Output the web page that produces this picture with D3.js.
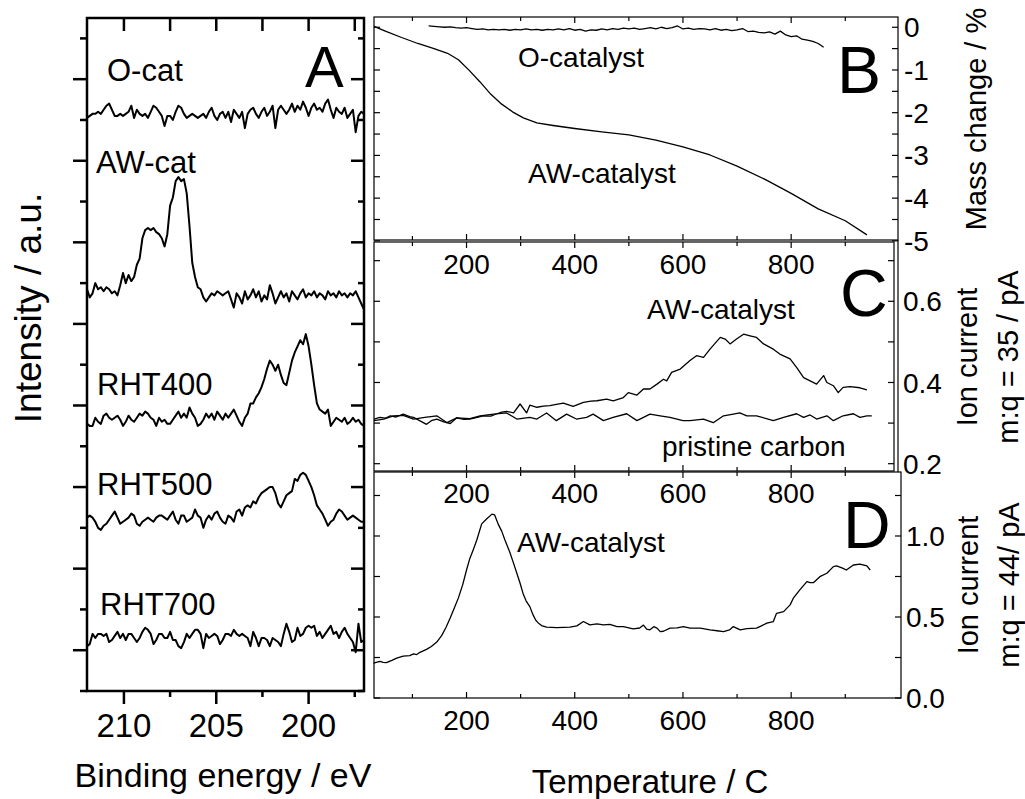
<!DOCTYPE html>
<html>
<head>
<meta charset="utf-8">
<script src="https://cdn.jsdelivr.net/npm/d3@7"></script>
<style>
body { margin: 0; background: #fff; }
text { font-family: "Liberation Sans", Arial, sans-serif; fill: #000; }
</style>
</head>
<body>
<div id="chart"></div>
<script>
// ---- panel A: XPS spectra (binding energy, 212 -> 197 eV, step 0.15) ----
var energyStart = 212, energyStep = 0.15
var energyTicks = [210, 205, 200]
var energyMinor = [207.5, 202.5, 197.5]

var oCat = [281,282,283,283,284,283,285,287,288,285,
  282,282,283,282,283,284,287,281,285,283,
  282,283,281,284,287,286,284,282,277,282,
  282,280,284,287,286,283,281,282,283,282,
  281,282,283,281,284,286,282,280,283,284,
  281,284,279,285,283,281,284,276,283,285,
  286,283,281,284,286,282,284,287,276,285,
  287,285,283,285,288,284,287,285,289,286,
  282,286,288,285,286,284,288,290,285,281,
  286,284,283,286,281,283,285,274,282,284,283]
var awCat = [197,193,195,200,197,198,196,198,197,195,
  196,194,199,205,200,204,201,203,209,212,
  222,226,227,226,227,225,224,222,218,224,
  238,242,250,252,250,251,244,228,210,203,
  198,197,193,191,193,195,194,196,195,194,
  195,196,192,188,195,193,190,196,192,194,
  197,193,196,191,194,192,199,195,190,193,
  196,193,195,191,196,194,192,195,197,193,
  195,194,196,193,195,194,192,196,194,195,
  193,196,194,195,193,195,194,196,193,190,187]
var rht400 = [131,130,130,134,132,131,135,136,134,133,
  134,135,133,130,132,135,133,132,134,136,
  135,137,136,134,133,130,134,132,133,131,
  131,133,135,137,134,136,134,139,136,134,
  130,131,133,136,134,136,133,137,135,133,
  136,134,136,138,135,132,130,134,136,141,
  141,144,146,149,153,158,162,160,157,160,
  155,151,150,156,162,166,169,172,170,175,
  169,160,150,141,138,137,136,138,130,132,
  134,133,132,134,131,132,134,132,133,131,130]
var rht500 = [85,86,85,83,80,79,81,82,84,86,
  88,85,82,83,84,85,87,86,82,81,
  83,84,85,84,83,85,86,86,85,84,
  86,88,84,82,86,86,83,84,85,89,
  86,85,80,84,86,84,87,88,85,83,
  82,86,85,83,88,89,86,90,91,90,
  93,92,95,97,98,99,100,100,97,92,
  90,93,96,97,98,104,103,106,107,106,
  103,100,96,91,89,87,84,81,83,84,
  87,89,88,86,84,85,86,85,84,83,83]
var rht700 = [22,23,28,26,28,28,27,28,24,25,
  27,29,26,28,25,28,28,26,24,26,
  29,31,30,28,23,25,28,28,26,26,
  29,25,25,22,21,24,28,26,28,30,
  30,28,21,28,26,27,28,27,23,25,
  28,28,27,30,28,27,28,27,26,22,
  29,26,22,26,26,25,22,26,25,24,
  22,28,33,29,24,25,31,27,28,31,
  32,31,32,27,29,26,28,30,32,28,
  29,26,29,31,28,26,24,19,33,24,25]
var spectrumNames = ['O-cat', 'AW-cat', 'RHT400', 'RHT500', 'RHT700']

// ---- panel B: mass change / % ----
var awMassT = [29,50,80,110,140,165,185,205,225,245,265,285,305,330,360,400,450,500,550,600,650,700,750,800,850,900,940]
var awMass = [0.02,-0.09,-0.24,-0.38,-0.50,-0.61,-0.76,-1.01,-1.28,-1.57,-1.80,-1.98,-2.12,-2.24,-2.30,-2.37,-2.45,-2.52,-2.64,-2.80,-2.99,-3.25,-3.55,-3.89,-4.25,-4.53,-4.86]
var oMassT = [130,140,150,160,170,180,190,200,210,220,230,240,250,260,270,280,290,300,310,320,330,340,350,360,370,380,390,400,410,420,430,440,450,460,470,480,490,500,510,520,530,540,550,560,570,580,590,600,610,620,630,640,650,660,670,680,690,700,710,720,730,740,750,760,770,780,790,800,810,820,830,840,850,860]
var oMass = [0.03,0.02,0.01,0.00,0.01,-0.01,-0.02,-0.01,-0.03,-0.05,-0.04,-0.06,-0.05,-0.06,-0.05,-0.07,-0.05,-0.06,-0.04,-0.06,-0.05,-0.07,-0.05,-0.06,-0.04,-0.06,-0.03,-0.07,-0.05,-0.09,-0.06,-0.07,-0.04,-0.06,-0.03,-0.05,-0.02,-0.04,-0.02,-0.05,-0.03,-0.01,-0.04,0.00,-0.03,-0.01,0.03,-0.04,-0.02,-0.05,-0.03,-0.04,-0.06,-0.03,-0.07,-0.05,-0.08,-0.06,-0.03,-0.10,-0.09,-0.12,-0.13,-0.11,-0.16,-0.09,-0.18,-0.22,-0.20,-0.28,-0.30,-0.33,-0.38,-0.47]
var massTicks = [0, -1, -2, -3, -4, -5]

// ---- panel C: ion current m:q = 35 / pA ----
var awHclT = [29,40,50,59,70,83,95,102,115,126,135,145,158,170,182,195,206,220,231,245,256,265,274,287,299,311,317,330,342,354,366,379,397,416,430,441,459,471,490,499,515,527,539,552,564,570,579,595,613,625,638,650,669,678,687,699,712,724,736,749,767,779,798,810,823,835,847,860,866,878,887,896,909,927,940]
var awHcl = [0.310,0.314,0.312,0.318,0.315,0.322,0.316,0.314,0.305,0.297,0.306,0.310,0.303,0.299,0.313,0.309,0.310,0.314,0.318,0.317,0.323,0.327,0.329,0.325,0.347,0.325,0.344,0.339,0.342,0.343,0.346,0.349,0.341,0.351,0.354,0.355,0.359,0.355,0.363,0.375,0.369,0.384,0.384,0.396,0.408,0.404,0.425,0.433,0.454,0.466,0.462,0.482,0.511,0.507,0.495,0.507,0.519,0.515,0.511,0.495,0.482,0.470,0.458,0.437,0.412,0.404,0.396,0.417,0.400,0.392,0.375,0.388,0.390,0.387,0.382]
var carbonT = [29,47,65,83,102,123,145,164,182,206,225,250,274,293,317,330,348,366,385,403,422,434,453,471,496,515,539,558,576,600,613,638,656,675,693,705,718,736,767,786,810,823,835,847,866,878,896,915,927,940,949]
var carbonHcl = [0.306,0.310,0.318,0.319,0.310,0.314,0.318,0.301,0.313,0.311,0.318,0.322,0.325,0.310,0.314,0.310,0.325,0.306,0.322,0.310,0.314,0.322,0.306,0.314,0.323,0.306,0.322,0.318,0.314,0.306,0.306,0.310,0.301,0.318,0.322,0.325,0.318,0.318,0.306,0.314,0.323,0.314,0.320,0.310,0.318,0.306,0.318,0.323,0.314,0.318,0.318]
var hclTicks = [0.2, 0.4, 0.6]

// ---- panel D: ion current m:q = 44 / pA ----
var awCo2T = [28,35,40,46,52,62,71,83,95,102,108,114,126,135,145,154,162,170,178,185,193,200,206,213,219,228,237,247,252,259,265,271,280,287,293,299,305,310,317,323,328,333,340,348,367,391,404,416,428,441,453,465,478,490,508,520,527,533,539,546,552,558,564,576,589,601,613,632,650,663,675,686,693,706,718,736,745,755,767,773,786,798,804,816,829,835,841,853,866,878,884,896,902,915,927,940,946]
var awCo2 = [0.215,0.222,0.226,0.220,0.218,0.232,0.246,0.258,0.262,0.272,0.268,0.282,0.300,0.318,0.345,0.385,0.435,0.495,0.560,0.618,0.700,0.790,0.860,0.920,0.975,1.075,1.105,1.135,1.130,1.070,1.030,0.975,0.900,0.831,0.770,0.708,0.640,0.600,0.564,0.513,0.480,0.462,0.445,0.437,0.435,0.437,0.445,0.472,0.451,0.457,0.451,0.455,0.441,0.441,0.427,0.432,0.450,0.425,0.421,0.440,0.431,0.410,0.412,0.431,0.433,0.441,0.431,0.431,0.421,0.415,0.410,0.420,0.441,0.421,0.428,0.431,0.445,0.462,0.472,0.523,0.533,0.575,0.616,0.667,0.718,0.712,0.712,0.749,0.770,0.811,0.815,0.800,0.790,0.821,0.827,0.815,0.790]
var co2Ticks = [0.0, 0.5, 1.0]

var tempTicks = [200, 400, 600, 800]
var tempMinor = [100, 300, 500, 700, 900]

var svg = d3.select('#chart')
    .append('svg')
    .attr('width', 1025)
    .attr('height', 799)

function xTicks(g, scale, vals, y0, len) {
    g.selectAll(null).data(vals).enter().append('line')
        .attr('x1', d => scale(d)).attr('x2', d => scale(d))
        .attr('y1', y0).attr('y2', y0 + len)
}
function yTicks(g, scale, vals, x0, len) {
    g.selectAll(null).data(vals).enter().append('line')
        .attr('y1', d => scale(d)).attr('y2', d => scale(d))
        .attr('x1', x0).attr('x2', x0 + len)
}

// ================= panel A =================
var xA = d3.scaleLinear().domain([212, 197]).range([87, 364])
var yA = d3.scaleLinear().domain([0, 330]).range([691, 18])
var aMajor = d3.range(20, 320, 40)   // unlabelled offset ticks
var aMinor = d3.range(0, 330, 40)

var gA = svg.append('g')
var lineA = d3.line()
    .x((d, i) => xA(energyStart - i * energyStep))
    .y(d => yA(d))

;[oCat, awCat, rht400, rht500, rht700].forEach(function (s) {
    gA.append('path')
        .attr('d', lineA(s))
        .attr('fill', 'none')
        .attr('stroke', '#000')
        .attr('stroke-width', 2)
        .attr('stroke-linejoin', 'round')
})

var tA = gA.append('g').attr('stroke', '#000').attr('stroke-width', 2.5)
xTicks(tA, xA, energyTicks, 691, 13)
xTicks(tA, xA, energyMinor, 691, 6)
xTicks(tA, xA, energyTicks.concat(energyMinor), 18, 13)
yTicks(tA, yA, aMajor, 87, -14)
yTicks(tA, yA, aMinor, 87, -7)
yTicks(tA, yA, aMajor, 364, -13)
yTicks(tA, yA, aMinor, 364, -6)
gA.append('rect')
    .attr('x', 87).attr('y', 18)
    .attr('width', 277).attr('height', 673)
    .attr('fill', 'none').attr('stroke', '#000').attr('stroke-width', 2.5)

gA.selectAll(null).data(energyTicks).enter().append('text')
    .attr('x', d => xA(d)).attr('y', 737)
    .attr('text-anchor', 'middle')
    .style('font-size', '33px')
    .text(d => d)

var specLabelPos = [[107, 81], [96, 173], [97, 395], [97, 495], [100, 615]]
gA.selectAll(null).data(spectrumNames).enter().append('text')
    .attr('x', (d, i) => specLabelPos[i][0])
    .attr('y', (d, i) => specLabelPos[i][1])
    .style('font-size', '31px')
    .text(d => d)

gA.append('text').attr('x', 305).attr('y', 87)
    .style('font-size', '58px').text('A')
svg.append('text').attr('x', 223).attr('y', 787)
    .attr('text-anchor', 'middle').style('font-size', '34px')
    .text('Binding energy / eV')
svg.append('text')
    .attr('transform', 'translate(41,308) rotate(-90)')
    .attr('text-anchor', 'middle').style('font-size', '37px')
    .text('Intensity / a.u.')

// ================= panels B, C, D =================
var xT = d3.scaleLinear().domain([29, 998]).range([374, 898.3])
var yB = d3.scaleLinear().domain([-4.98, 0.24]).range([240, 17])
var yC = d3.scaleLinear().domain([0.182, 0.746]).range([471, 242])
var yD = d3.scaleLinear().domain([0, 1.395]).range([698, 472])

function curve(g, ts, vs, ys) {
    var pts = ts.map((t, i) => [t, vs[i]])
    g.append('path')
        .attr('d', d3.line().x(d => xT(d[0])).y(d => ys(d[1]))(pts))
        .attr('fill', 'none')
        .attr('stroke', '#000')
        .attr('stroke-width', 1.3)
        .attr('stroke-linejoin', 'round')
}

function frame(g, ys, top, bottom, right, minorY, labX, labels, fmt) {
    var left = 374
    var t = g.append('g').attr('stroke', '#000').attr('stroke-width', 1.2)
    t.append('rect').attr('x', left).attr('y', top)
        .attr('width', right - left).attr('height', bottom - top)
        .attr('fill', 'none')
    xTicks(t, xT, tempTicks, top, 6)
    xTicks(t, xT, tempMinor, top, 4)
    xTicks(t, xT, tempTicks, bottom, -6)
    xTicks(t, xT, tempMinor, bottom, -4)
    yTicks(t, ys, minorY, left, 6)
    yTicks(t, ys, minorY, right, -6)
    g.selectAll(null).data(labels).enter().append('text')
        .attr('x', labX).attr('y', d => ys(d))
        .attr('dy', '0.36em')
        .style('font-size', '28px')
        .text(fmt)
}

var gB = svg.append('g')
frame(gB, yB, 17, 240, 898, d3.range(-5, 0.01, 0.5), 904, massTicks, d => String(d))
curve(gB, awMassT, awMass, yB)
curve(gB, oMassT, oMass, yB)

var gC = svg.append('g')
frame(gC, yC, 242, 471, 894, d3.range(0.2, 0.71, 0.1), 903, hclTicks, d3.format('.1f'))
gC.append('line').attr('x1', 898).attr('x2', 898).attr('y1', 240).attr('y2', 472)
    .attr('stroke', '#000').attr('stroke-width', 1.2)
curve(gC, awHclT, awHcl, yC)
curve(gC, carbonT, carbonHcl, yC)

var gD = svg.append('g')
frame(gD, yD, 472, 698, 901, d3.range(0, 1.3, 0.25), 906, co2Ticks, d3.format('.1f'))
curve(gD, awCo2T, awCo2, yD)

// temperature tick labels (B's labels sit inside C, C's inside D)
;[274, 503, 730].forEach(function (yb) {
    svg.selectAll(null).data(tempTicks).enter().append('text')
        .attr('x', d => xT(d)).attr('y', yb)
        .attr('text-anchor', 'middle')
        .style('font-size', '28px')
        .text(d => d)
})

var notes = [
    ['O-catalyst', 518, 67], ['AW-catalyst', 528, 183],
    ['AW-catalyst', 647, 319], ['pristine carbon', 662, 456],
    ['AW-catalyst', 517, 552]
]
svg.selectAll(null).data(notes).enter().append('text')
    .attr('x', d => d[1]).attr('y', d => d[2])
    .style('font-size', '28px')
    .text(d => d[0])

var letters = [['B', 837, 93], ['C', 840, 316], ['D', 843, 548]]
svg.selectAll(null).data(letters).enter().append('text')
    .attr('x', d => d[1]).attr('y', d => d[2])
    .style('font-size', '66px')
    .text(d => d[0])

svg.append('text').attr('transform', 'translate(986,119) rotate(-90)')
    .attr('text-anchor', 'middle').style('font-size', '29px')
    .text('Mass change / %')
svg.append('text').attr('transform', 'translate(977,357) rotate(-90)')
    .attr('text-anchor', 'middle').style('font-size', '29px')
    .text('Ion current')
svg.append('text').attr('transform', 'translate(1018,357) rotate(-90)')
    .attr('text-anchor', 'middle').style('font-size', '29px')
    .text('m:q = 35 / pA')
svg.append('text').attr('transform', 'translate(978,585) rotate(-90)')
    .attr('text-anchor', 'middle').style('font-size', '29px')
    .text('Ion current')
svg.append('text').attr('transform', 'translate(1019,585) rotate(-90)')
    .attr('text-anchor', 'middle').style('font-size', '29px')
    .text('m:q = 44/ pA')
svg.append('text').attr('x', 650).attr('y', 793)
    .attr('text-anchor', 'middle').style('font-size', '33px')
    .text('Temperature / C')
</script>
</body>
</html>
